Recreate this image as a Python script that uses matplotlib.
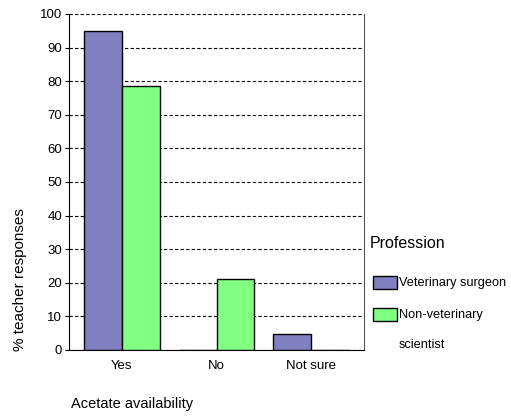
import numpy as np
import matplotlib
matplotlib.use('Agg')
import matplotlib.pyplot as plt
from matplotlib.patches import Rectangle

categories = ['Yes', 'No', 'Not sure']
vet_surgeon = [95.0, 0.0, 4.8]
non_vet = [78.6, 21.2, 0.0]
series_names = ['Veterinary surgeon', 'Non-veterinary']
colors = ['#8080C0', '#80FF80']

plt.rcParams['font.family'] = ['Liberation Sans', 'DejaVu Sans']

W, H = 511, 417
fig = plt.figure(figsize=(W / 100, H / 100), dpi=100)
ax = fig.add_axes([69 / W, 1 - 350 / H, 295 / W, 336 / H])

x = np.arange(len(categories))
w = 0.40
ax.bar(x - w / 2, vet_surgeon, w, color=colors[0], edgecolor='black', linewidth=1, zorder=3)
ax.bar(x + w / 2, non_vet, w, color=colors[1], edgecolor='black', linewidth=1, zorder=3)

ax.set_xlim(-0.56, 2.56)
ax.set_ylim(0, 100)
ax.set_yticks(range(0, 101, 10))
ax.set_xticks(x)
ax.set_xticklabels(categories)
ax.tick_params(axis='x', length=0, labelsize=9.5, pad=7)
ax.tick_params(axis='y', length=3, labelsize=9.5, pad=2)
ax.yaxis.grid(True, linestyle=(0, (3, 2)), color='black', linewidth=0.8, zorder=0)
ax.spines['top'].set_visible(False)
ax.spines['right'].set_color('#555555')

# axis titles
fig.text(20 / W, 1 - 280 / H, '% teacher responses', rotation=90,
         ha='center', va='center', fontsize=11)
fig.text(71 / W, 1 - 404 / H, 'Acetate availability', ha='left', va='center', fontsize=10.5)

# legend drawn by hand
fig.text(370 / W, 1 - 243 / H, 'Profession', ha='left', va='center', fontsize=11.5)
patch_tops = [276, 308]
for top, c, name in zip(patch_tops, colors, series_names):
    fig.patches.append(Rectangle((373 / W, 1 - (top + 13) / H), 24 / W, 13 / H,
                                 facecolor=c, edgecolor='black', linewidth=1,
                                 transform=fig.transFigure, figure=fig))
    fig.text(399 / W, 1 - (top + 7) / H, name, ha='left', va='center', fontsize=9.2)
fig.text(399 / W, 1 - 345 / H, 'scientist', ha='left', va='center', fontsize=9.2)

fig.savefig('out.png', dpi=100)
